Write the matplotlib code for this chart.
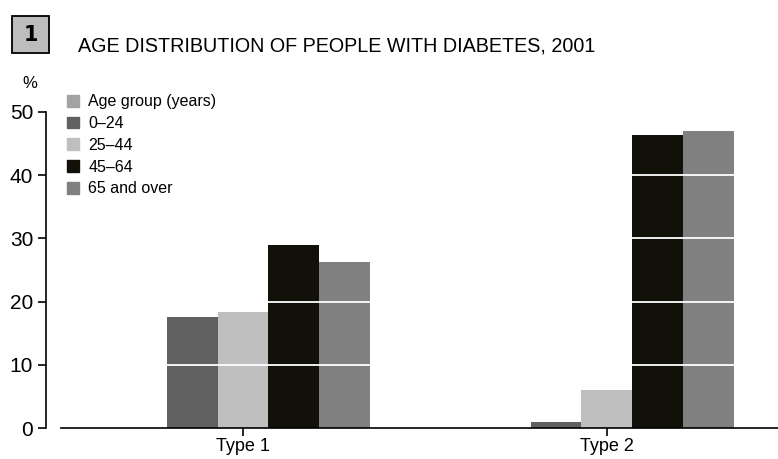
import matplotlib.pyplot as plt
from matplotlib.patches import Rectangle, Patch
import numpy as np

plt.rcParams['font.family'] = ['Liberation Sans', 'DejaVu Sans']

# data
categories = ['Type 1', 'Type 2']
groups = ['Age group (years)', '0\u201324', '25\u201344', '45\u201364', '65 and over']
colors = ['#a3a3a3', '#616161', '#bfbfbf', '#11110a', '#808080']
values = {
    'Age group (years)': [0, 0],
    '0\u201324': [17.6, 1.0],
    '25\u201344': [18.4, 6.0],
    '45\u201364': [28.9, 46.4],
    '65 and over': [26.2, 47.0],
}
yticks = [0, 10, 20, 30, 40, 50]

fig = plt.figure(figsize=(7.78, 4.59), dpi=100)
ax = fig.add_axes([61 / 778, 30.7 / 459, 717 / 778, 316.5 / 459])

x = np.arange(len(categories))
w = 0.14
for i, g in enumerate(groups):
    ax.bar(x + (i - 2) * w, values[g], width=w, color=colors[i], zorder=2)

# white lines across the bars
for t in yticks[1:-1]:
    ax.axhline(t, color='white', lw=1.3, zorder=3)

ax.set_xlim(-0.5, 1.47)
ax.set_ylim(0, 50)
ax.set_yticks(yticks)
ax.set_xticks(x)
ax.set_xticklabels(categories, fontsize=13)
ax.tick_params(axis='y', labelsize=15, length=6, width=1.2, pad=3)
ax.tick_params(axis='x', length=6, width=1.2, pad=1)
for s in ['top', 'right']:
    ax.spines[s].set_visible(False)
ax.spines['left'].set_position(('outward', 11))
ax.spines['left'].set_linewidth(1.2)
ax.spines['bottom'].set_linewidth(1.2)

handles = [Patch(color=c) for c in colors]
ax.legend(handles, groups, loc='upper left', bbox_to_anchor=(0.0, 1.075),
          frameon=False, fontsize=11.5, handlelength=0.75, handleheight=0.75,
          handletextpad=0.55, labelspacing=0.42, borderaxespad=0)

fig.text(30 / 778, 1 - 84 / 459, '%', fontsize=12, ha='center', va='center')

# numbered box + title
fig.patches.append(Rectangle((12 / 778, 1 - 53 / 459), 37 / 778, 37 / 459,
                             transform=fig.transFigure, facecolor='#bdbdbd',
                             edgecolor='black', lw=1.3))
fig.text(30.5 / 778, 1 - 35 / 459, '1', fontsize=15, fontweight='bold',
         ha='center', va='center', family='DejaVu Sans')
fig.text(78 / 778, 1 - 46 / 459, 'AGE DISTRIBUTION OF PEOPLE WITH DIABETES, 2001',
         fontsize=14.2, ha='left', va='center')

fig.savefig('out.png', dpi=100)
